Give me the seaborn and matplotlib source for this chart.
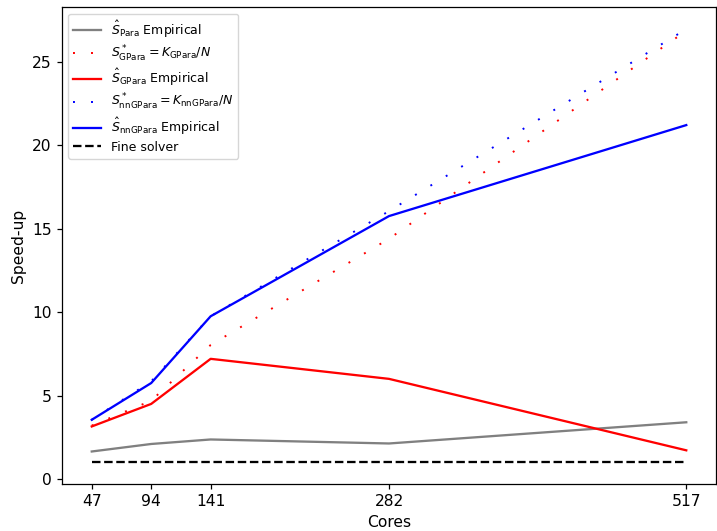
import pandas as pd
import matplotlib
matplotlib.use("Agg")
import matplotlib.pyplot as plt
import seaborn as sns

# values
cores = [47, 94, 141, 282, 517]
para_emp = [1.65, 2.1, 2.37, 2.13, 3.4]
gpara_theory = [3.2, 4.69, 8.03, 14.39, 26.85]
gpara_emp = [3.15, 4.5, 7.2, 6.0, 1.72]
nngpara_theory = [3.55, 5.85, 9.75, 16.05, 26.95]
nngpara_emp = [3.55, 5.75, 9.75, 15.75, 21.2]
fine_solver = [1.0, 1.0, 1.0, 1.0, 1.0]

df = pd.DataFrame({
    'cores': cores,
    'para_emp': para_emp,
    'gpara_theory': gpara_theory,
    'gpara_emp': gpara_emp,
    'nngpara_theory': nngpara_theory,
    'nngpara_emp': nngpara_emp,
    'fine': fine_solver,
})

plt.rcParams.update({
    'xtick.labelsize': 11.2,
    'ytick.labelsize': 11.2,
    'axes.labelsize': 11.2,
    'axes.linewidth': 0.9,
    'xtick.major.size': 3.9,
    'ytick.major.size': 3.9,
    'xtick.major.width': 0.9,
    'ytick.major.width': 0.9,
})

fig, ax = plt.subplots(figsize=(7.17, 5.31), dpi=100)
fig.subplots_adjust(left=0.0865, right=0.9986, bottom=0.0885, top=0.986)

sparse_dots = (0, (1, 8.27))
lw = 1.65

sns.lineplot(data=df, x='cores', y='para_emp', color='gray', lw=lw,
             label=r'$\hat{S}_{\mathrm{Para}}$ Empirical', ax=ax)
sns.lineplot(data=df, x='cores', y='gpara_theory', color='red', lw=1.4,
             linestyle=sparse_dots,
             label=r'$S^*_{\mathrm{GPara}} = K_{\mathrm{GPara}}/N$', ax=ax)
sns.lineplot(data=df, x='cores', y='gpara_emp', color='red', lw=lw,
             label=r'$\hat{S}_{\mathrm{GPara}}$ Empirical', ax=ax)
sns.lineplot(data=df, x='cores', y='nngpara_theory', color='blue', lw=1.4,
             linestyle=sparse_dots,
             label=r'$S^*_{\mathrm{nnGPara}} = K_{\mathrm{nnGPara}}/N$', ax=ax)
sns.lineplot(data=df, x='cores', y='nngpara_emp', color='blue', lw=lw,
             label=r'$\hat{S}_{\mathrm{nnGPara}}$ Empirical', ax=ax)
sns.lineplot(data=df, x='cores', y='fine', color='black', lw=lw,
             linestyle='--', label='Fine solver', ax=ax)

ax.set_xticks(cores)
ax.set_xlabel('Cores')
ax.set_ylabel('Speed-up')
ax.legend(loc='upper left', fontsize=9, labelspacing=0.3, handlelength=2.2)

fig.savefig('out.png', dpi=100)
